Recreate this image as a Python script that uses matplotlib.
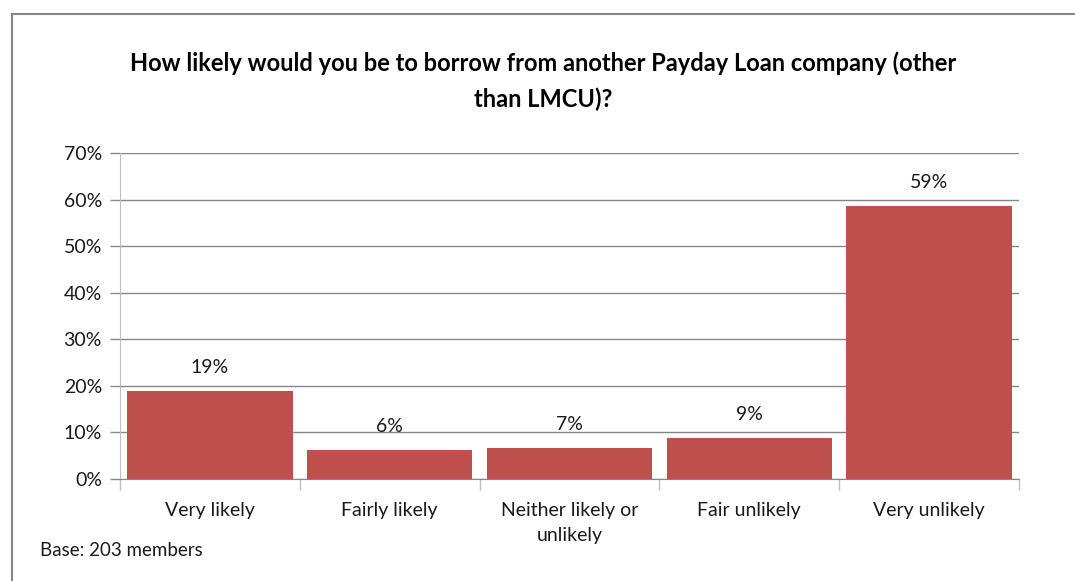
import matplotlib
matplotlib.use("Agg")
import matplotlib.pyplot as plt
from matplotlib.lines import Line2D
from matplotlib.ticker import MultipleLocator, FuncFormatter

categories = ["Very likely", "Fairly likely", "Neither likely or\nunlikely",
              "Fair unlikely", "Very unlikely"]
shares = [18.9, 6.2, 6.7, 8.8, 58.6]
title = "How likely would you be to borrow from another Payday Loan company (other\nthan LMCU)?"
base_note = "Base: 203 members"

W, H = 1075, 581
plt.rcParams["font.family"] = ["Lato", "DejaVu Sans"]

fig = plt.figure(figsize=(W / 100, H / 100), dpi=100)
fig.patch.set_facecolor("white")

# axes in pixel box: left 120, right 1019, top 153, bottom 479
ax = fig.add_axes([120 / W, 1 - 479 / H, (1019 - 120) / W, (479 - 153) / H])
x = range(len(categories))
bars = ax.bar(x, shares, width=0.92, color="#C0504D", edgecolor="none", zorder=3)

ax.set_xlim(-0.5, len(categories) - 0.5)
ax.set_ylim(0, 70)
ax.yaxis.set_major_locator(MultipleLocator(10))
ax.yaxis.set_major_formatter(FuncFormatter(lambda v, p: f"{v:.0f}%"))
ax.grid(axis="y", color="#868686", linewidth=1.0, zorder=0)

for s in ["top", "right"]:
    ax.spines[s].set_visible(False)
ax.spines["left"].set_color("#BFBFBF")
ax.spines["bottom"].set_color("#868686")

# category tick marks sit on the boundaries between bars
ax.set_xticks([i - 0.5 for i in range(len(categories) + 1)])
ax.set_xticklabels([])
ax.tick_params(axis="x", length=8, color="#BFBFBF", width=1)
ax.tick_params(axis="y", length=7, color="#868686", width=1, labelsize=14,
               labelcolor="#1a1a1a", pad=6)

for i, cat in enumerate(categories):
    ax.annotate(cat, (i, 0), xytext=(0, -16.5), textcoords="offset points",
                ha="center", va="top", fontsize=14, color="#1a1a1a",
                linespacing=1.6)

for b, v in zip(bars, shares):
    ax.annotate(f"{v:.0f}%", (b.get_x() + b.get_width() / 2, v),
                xytext=(0, 17), textcoords="offset points",
                ha="center", va="center", fontsize=14, color="#1a1a1a")

fig.text(543 / W, 1 - 81 / H, title, ha="center", va="center",
         fontsize=17, fontweight="bold", color="black", linespacing=1.62)
fig.text(40 / W, 1 - 551 / H, base_note, ha="left", va="center",
         fontsize=13.5, color="#1a1a1a")

# chart frame (top and left edges visible)
fig.add_artist(Line2D([12 / W, 1], [1 - 14 / H, 1 - 14 / H],
                      transform=fig.transFigure, color="#868686", linewidth=1.5))
fig.add_artist(Line2D([12 / W, 12 / W], [0, 1 - 14 / H],
                      transform=fig.transFigure, color="#868686", linewidth=1.5))

fig.savefig("out.png", dpi=100)
